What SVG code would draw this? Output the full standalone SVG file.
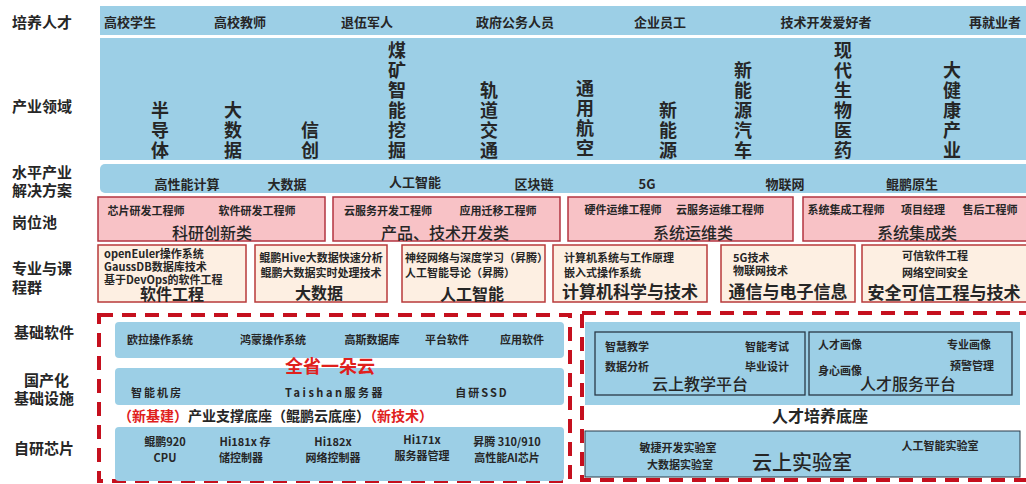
<svg xmlns="http://www.w3.org/2000/svg" width="1026" height="484" viewBox="0 0 1026 484">
<style>
text{font-family:"Noto Sans CJK SC","Noto Sans",sans-serif;fill:#262626;font-weight:bold}
.lab{font-size:15px;text-anchor:start}
.t14{font-size:13px}
.t12{font-size:11px}
.c{text-anchor:middle}
.cat{font-size:16px;text-anchor:middle}
.nw{font-weight:500}
.vt{font-size:18px;text-anchor:middle}
.blue{fill:#9ccfe6}
.pink{fill:#f8c2c6;stroke:#b23440;stroke-width:1.5}
.peach{fill:#fdefe2;stroke:#b83a3a;stroke-width:1.5}
.dash{fill:none;stroke:#c5101e;stroke-width:4;stroke-dasharray:14 9}
.inner{fill:none;stroke:#2a3a48;stroke-width:1.3}
.red{fill:#e0201c}
</style>
<rect width="1026" height="484" fill="#ffffff"/>
<g id="row-labels">
<text class="lab" x="12" y="28">培养人才</text>
<text class="lab" x="12" y="112">产业领域</text>
<text class="lab" x="12" y="178">水平产业</text>
<text class="lab" x="12" y="196">解决方案</text>
<text class="lab" x="12" y="228">岗位池</text>
<text class="lab" x="12" y="274">专业与课</text>
<text class="lab" x="12" y="293">程群</text>
<text class="lab" x="14" y="338">基础软件</text>
<text class="lab" x="24" y="386">国产化</text>
<text class="lab" x="14" y="404">基础设施</text>
<text class="lab" x="14" y="454">自研芯片</text>
</g>
<g id="talent">
<rect class="blue" x="100" y="6" width="926" height="29"/>
<text class="t14 c" x="130" y="27">高校学生</text>
<text class="t14 c" x="240" y="27">高校教师</text>
<text class="t14 c" x="367" y="27">退伍军人</text>
<text class="t14 c" x="515" y="27">政府公务人员</text>
<text class="t14 c" x="660" y="27">企业员工</text>
<text class="t14 c" x="826" y="27">技术开发爱好者</text>
<text class="t14 c" x="995" y="27">再就业者</text>
</g>
<g id="industry">
<rect class="blue" x="100" y="38" width="926" height="122"/>
<text class="vt" x="160"><tspan x="160" y="117">半</tspan><tspan x="160" y="137">导</tspan><tspan x="160" y="157">体</tspan></text>
<text class="vt" x="233"><tspan x="233" y="117">大</tspan><tspan x="233" y="137">数</tspan><tspan x="233" y="157">据</tspan></text>
<text class="vt" x="310"><tspan x="310" y="137">信</tspan><tspan x="310" y="157">创</tspan></text>
<text class="vt" x="397"><tspan x="397" y="57">煤</tspan><tspan x="397" y="77">矿</tspan><tspan x="397" y="97">智</tspan><tspan x="397" y="117">能</tspan><tspan x="397" y="137">挖</tspan><tspan x="397" y="157">掘</tspan></text>
<text class="vt" x="489"><tspan x="489" y="97">轨</tspan><tspan x="489" y="117">道</tspan><tspan x="489" y="137">交</tspan><tspan x="489" y="157">通</tspan></text>
<text class="vt" x="585"><tspan x="585" y="95">通</tspan><tspan x="585" y="115">用</tspan><tspan x="585" y="135">航</tspan><tspan x="585" y="155">空</tspan></text>
<text class="vt" x="668"><tspan x="668" y="117">新</tspan><tspan x="668" y="137">能</tspan><tspan x="668" y="157">源</tspan></text>
<text class="vt" x="743"><tspan x="743" y="77">新</tspan><tspan x="743" y="97">能</tspan><tspan x="743" y="117">源</tspan><tspan x="743" y="137">汽</tspan><tspan x="743" y="157">车</tspan></text>
<text class="vt" x="843"><tspan x="843" y="57">现</tspan><tspan x="843" y="77">代</tspan><tspan x="843" y="97">生</tspan><tspan x="843" y="117">物</tspan><tspan x="843" y="137">医</tspan><tspan x="843" y="157">药</tspan></text>
<text class="vt" x="952"><tspan x="952" y="77">大</tspan><tspan x="952" y="97">健</tspan><tspan x="952" y="117">康</tspan><tspan x="952" y="137">产</tspan><tspan x="952" y="157">业</tspan></text>
</g>
<g id="solutions">
<rect class="blue" x="100" y="164" width="930" height="29" rx="5"/>
<text class="t14 c" x="187" y="189">高性能计算</text>
<text class="t14 c" x="287" y="189">大数据</text>
<text class="t14 c" x="415" y="187">人工智能</text>
<text class="t14 c" x="534" y="189">区块链</text>
<text class="t14 c" x="647" y="189">5G</text>
<text class="t14 c" x="785" y="189">物联网</text>
<text class="t14 c" x="912" y="189">鲲鹏原生</text>
</g>
<g id="job-research">
<rect class="pink" x="98" y="197" width="227" height="44"/>
<text class="t12 c" x="146" y="215">芯片研发工程师</text>
<text class="t12 c" x="257" y="215">软件研发工程师</text>
<text class="cat nw" x="212" y="239">科研创新类</text>
</g>
<g id="job-dev">
<rect class="pink" x="333" y="197" width="227" height="44"/>
<text class="t12 c" x="388" y="215">云服务开发工程师</text>
<text class="t12 c" x="498" y="215">应用迁移工程师</text>
<text class="cat nw" x="445" y="239">产品、技术开发类</text>
</g>
<g id="job-ops">
<rect class="pink" x="568" y="197" width="225" height="44"/>
<text class="t12 c" x="623" y="214">硬件运维工程师</text>
<text class="t12 c" x="720" y="214">云服务运维工程师</text>
<text class="cat nw" x="693" y="239">系统运维类</text>
</g>
<g id="job-integration">
<rect class="pink" x="803" y="197" width="230" height="44"/>
<text class="t12 c" x="846" y="214">系统集成工程师</text>
<text class="t12 c" x="923" y="214">项目经理</text>
<text class="t12 c" x="990" y="214">售后工程师</text>
<text class="cat nw" x="917" y="239">系统集成类</text>
</g>
<g id="course-se">
<rect class="peach" x="98" y="245" width="148" height="57"/>
<text class="t12" x="104" y="258">openEuler操作系统</text>
<text class="t12" x="104" y="271">GaussDB数据库技术</text>
<text class="t12" x="104" y="284">基于DevOps的软件工程</text>
<text class="cat" x="172" y="300">软件工程</text>
</g>
<g id="course-bigdata">
<rect class="peach" x="255" y="245" width="132" height="57"/>
<text class="t12 c" x="321" y="262">鲲鹏Hive大数据快速分析</text>
<text class="t12 c" x="321" y="277">鲲鹏大数据实时处理技术</text>
<text class="cat" x="319" y="299">大数据</text>
</g>
<g id="course-ai">
<rect class="peach" x="402" y="245" width="143" height="57"/>
<text class="t12" x="405" y="262">神经网络与深度学习（昇腾）</text>
<text class="t12" x="405" y="277">人工智能导论（昇腾）</text>
<text class="cat" x="472" y="300">人工智能</text>
</g>
<g id="course-cs">
<rect class="peach" x="553" y="245" width="154" height="57"/>
<text class="t12" x="564" y="262">计算机系统与工作原理</text>
<text class="t12" x="564" y="277">嵌入式操作系统</text>
<text class="cat" x="630" y="298" style="font-size:17px">计算机科学与技术</text>
</g>
<g id="course-comm">
<rect class="peach" x="721" y="245" width="134" height="57"/>
<text class="t12" x="733" y="262">5G技术</text>
<text class="t12" x="733" y="275">物联网技术</text>
<text class="cat" x="788" y="298" style="font-size:17px">通信与电子信息</text>
</g>
<g id="course-security">
<rect class="peach" x="862" y="245" width="170" height="57"/>
<text class="t12 c" x="935" y="260">可信软件工程</text>
<text class="t12 c" x="935" y="277">网络空间安全</text>
<text class="cat" x="944" y="299" style="font-size:17px">安全可信工程与技术</text>
</g>
<g id="industry-base">
<rect class="dash" x="99" y="315" width="471" height="166"/>
<rect class="blue" x="115" y="322" width="449" height="36" rx="4"/>
<text class="t12 c" x="160" y="344">欧拉操作系统</text>
<text class="t12 c" x="273" y="344">鸿蒙操作系统</text>
<text class="t12 c" x="372" y="344">高斯数据库</text>
<text class="t12 c" x="447" y="344">平台软件</text>
<text class="t12 c" x="522" y="344">应用软件</text>
<rect class="blue" x="115" y="368" width="449" height="37" rx="4"/>
<text class="t12 c" x="157" y="397" style="letter-spacing:2px">智能机房</text>
<text class="t12 c" x="335" y="397" style="letter-spacing:2.5px">Taishan服务器</text>
<text class="t12 c" x="482" y="397" style="letter-spacing:2px">自研SSD</text>
<text class="red c" x="330" y="373" style="font-size:18px">全省一朵云</text>
<text x="118" y="421" style="font-size:14px"><tspan class="red">（新基建）</tspan><tspan>产业支撑底座（鲲鹏云底座）</tspan><tspan class="red">（新技术）</tspan></text>
<rect class="blue" x="115" y="427" width="449" height="54" rx="4"/>
<text class="t12 c" x="165" y="446">鲲鹏920</text>
<text class="t12 c" x="165" y="462">CPU</text>
<text class="t12 c" x="245" y="446">Hi181x 存</text>
<text class="t12 c" x="241" y="462">储控制器</text>
<text class="t12 c" x="333" y="446">Hi182x</text>
<text class="t12 c" x="333" y="462">网络控制器</text>
<text class="t12 c" x="422" y="444">Hi171x</text>
<text class="t12 c" x="422" y="460">服务器管理</text>
<text class="t12 c" x="507" y="446">昇腾 310/910</text>
<text class="t12 c" x="507" y="462">高性能AI芯片</text>
</g>
<g id="talent-base">
<rect class="dash" x="582" y="313" width="450" height="167"/>
<rect class="blue" x="585" y="322" width="435" height="83"/>
<rect class="inner" x="595" y="332" width="210" height="63"/>
<rect class="inner" x="809" y="332" width="203" height="63"/>
<text class="t12" x="605" y="351">智慧教学</text>
<text class="t12" x="745" y="351">智能考试</text>
<text class="t12" x="605" y="371">数据分析</text>
<text class="t12" x="745" y="371">毕业设计</text>
<text class="cat nw" x="700" y="390">云上教学平台</text>
<text class="t12" x="818" y="349">人才画像</text>
<text class="t12" x="947" y="349">专业画像</text>
<text class="t12" x="818" y="375">身心画像</text>
<text class="t12" x="950" y="370">预警管理</text>
<text class="cat nw" x="908" y="390">人才服务平台</text>
<text class="cat" x="820" y="422">人才培养底座</text>
<rect class="blue" x="585" y="431" width="435" height="46" style="stroke:#2a3a48;stroke-width:1"/>
<text class="t12 c" x="678" y="452">敏捷开发实验室</text>
<text class="t12 c" x="680" y="469">大数据实验室</text>
<text class="c nw" x="802" y="470" style="font-size:20px">云上实验室</text>
<text class="t12 c" x="940" y="450">人工智能实验室</text>
</g>
<g id="connectors"></g>
</svg>
